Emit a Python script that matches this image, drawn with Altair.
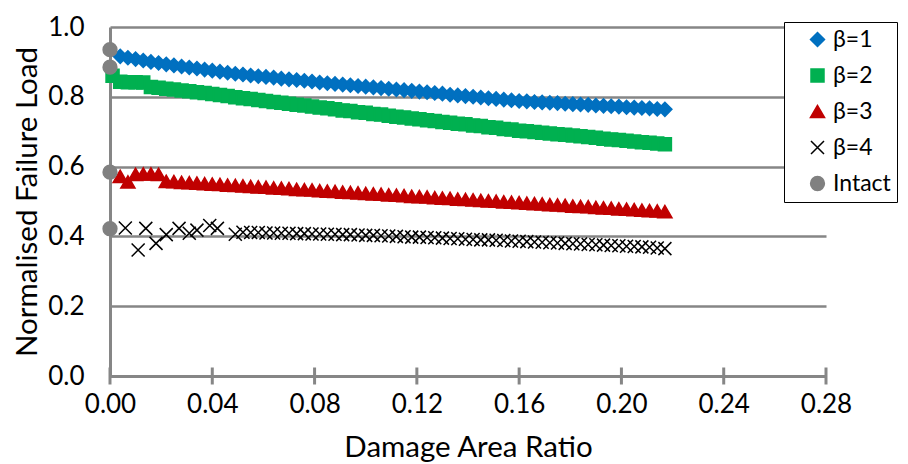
import altair as alt
import pandas as pd

# ---------------- data ----------------
series_names = ["β=1", "β=2", "β=3", "β=4", "Intact"]

x_grid = [0.004, 0.007, 0.010, 0.013, 0.016, 0.019, 0.022, 0.025, 0.028, 0.031,
          0.034, 0.037, 0.040, 0.043, 0.046, 0.049, 0.052, 0.055, 0.058, 0.061,
          0.064, 0.067, 0.070, 0.073, 0.076, 0.079, 0.082, 0.085, 0.088, 0.091,
          0.094, 0.097, 0.100, 0.103, 0.106, 0.109, 0.112, 0.115, 0.118, 0.121,
          0.124, 0.127, 0.130, 0.133, 0.136, 0.139, 0.142, 0.145, 0.148, 0.151,
          0.154, 0.157, 0.160, 0.163, 0.166, 0.169, 0.172, 0.175, 0.178, 0.181,
          0.184, 0.187, 0.190, 0.193, 0.196, 0.199, 0.202, 0.205, 0.208, 0.211,
          0.214, 0.217]

beta1_x = x_grid
beta1_y = [0.916, 0.912, 0.908, 0.904, 0.900, 0.897, 0.893, 0.890, 0.887, 0.884,
           0.881, 0.878, 0.875, 0.872, 0.869, 0.866, 0.864, 0.861, 0.859, 0.857,
           0.855, 0.852, 0.850, 0.848, 0.846, 0.844, 0.841, 0.839, 0.837, 0.835,
           0.833, 0.831, 0.829, 0.827, 0.825, 0.823, 0.821, 0.819, 0.817, 0.815,
           0.813, 0.811, 0.809, 0.806, 0.804, 0.802, 0.800, 0.798, 0.796, 0.794,
           0.792, 0.790, 0.788, 0.787, 0.785, 0.784, 0.783, 0.782, 0.780, 0.779,
           0.778, 0.777, 0.775, 0.774, 0.773, 0.772, 0.770, 0.769, 0.768, 0.767,
           0.765, 0.764]

beta2_x = [0.001] + x_grid
beta2_y = [0.860,
           0.843, 0.842, 0.842, 0.841, 0.828, 0.826, 0.823, 0.821, 0.818, 0.816,
           0.813, 0.811, 0.808, 0.805, 0.802, 0.799, 0.796, 0.794, 0.791, 0.788,
           0.785, 0.783, 0.780, 0.777, 0.775, 0.772, 0.769, 0.767, 0.764, 0.761,
           0.759, 0.756, 0.754, 0.751, 0.749, 0.746, 0.743, 0.741, 0.738, 0.736,
           0.733, 0.731, 0.728, 0.726, 0.723, 0.721, 0.718, 0.716, 0.713, 0.711,
           0.708, 0.706, 0.703, 0.701, 0.699, 0.697, 0.695, 0.693, 0.691, 0.689,
           0.687, 0.685, 0.683, 0.680, 0.678, 0.676, 0.674, 0.672, 0.670, 0.668,
           0.666, 0.664]

beta3_x = x_grid
beta3_y = [0.572, 0.556, 0.578, 0.579, 0.579, 0.578, 0.558, 0.557, 0.555, 0.554,
           0.553, 0.551, 0.550, 0.549, 0.547, 0.546, 0.545, 0.543, 0.542, 0.541,
           0.539, 0.538, 0.537, 0.535, 0.534, 0.533, 0.531, 0.530, 0.529, 0.527,
           0.526, 0.525, 0.523, 0.522, 0.521, 0.519, 0.518, 0.517, 0.515, 0.514,
           0.513, 0.511, 0.510, 0.509, 0.507, 0.506, 0.505, 0.503, 0.502, 0.501,
           0.499, 0.498, 0.497, 0.495, 0.494, 0.493, 0.491, 0.490, 0.489, 0.487,
           0.486, 0.485, 0.483, 0.482, 0.481, 0.479, 0.478, 0.477, 0.475, 0.474,
           0.473, 0.471]

beta4_x = [0.006, 0.011, 0.014, 0.018, 0.022, 0.027, 0.031, 0.034, 0.039, 0.042,
           0.049] + x_grid[16:]
beta4_y = [0.424, 0.361, 0.423, 0.380, 0.405, 0.423, 0.409, 0.418, 0.431, 0.423,
           0.406,
           0.412, 0.411, 0.411, 0.410, 0.410, 0.409, 0.409, 0.408, 0.408, 0.407,
           0.407, 0.406, 0.406, 0.405, 0.405, 0.404, 0.403, 0.403, 0.402, 0.401,
           0.400, 0.399, 0.398, 0.398, 0.397, 0.396, 0.395, 0.394, 0.393, 0.392,
           0.391, 0.390, 0.390, 0.389, 0.388, 0.387, 0.386, 0.385, 0.384, 0.383,
           0.382, 0.381, 0.380, 0.379, 0.378, 0.377, 0.376, 0.375, 0.374, 0.373,
           0.372, 0.371, 0.370, 0.369, 0.367, 0.365]

intact_x = [0.0, 0.0, 0.0, 0.0]
intact_y = [0.935, 0.885, 0.584, 0.422]

x_ticks = [0.0, 0.04, 0.08, 0.12, 0.16, 0.20, 0.24, 0.28]
y_ticks = [0.0, 0.2, 0.4, 0.6, 0.8, 1.0]

# ---------------- build table ----------------
rows = []
for name, xs, ys in [("β=1", beta1_x, beta1_y), ("β=2", beta2_x, beta2_y),
                     ("β=3", beta3_x, beta3_y), ("β=4", beta4_x, beta4_y),
                     ("Intact", intact_x, intact_y)]:
    for xv, yv in zip(xs, ys):
        rows.append({"x": xv, "y": yv, "series": name})
df = pd.DataFrame(rows)
ticks_df = pd.DataFrame({"x": x_ticks})

FONT = "Lato"
GRAY = "#868686"
X_PATH = "M-1,-1L1,1M-1,1L1,-1"

fill_range = ["#0070C0", "#00B050", "#C00000", "transparent", "#808080"]
stroke_range = ["#0070C0", "#00B050", "#C00000", "#000000", "#808080"]
shape_range = ["diamond", "square", "triangle-up", X_PATH, "circle"]
size_range = [196, 169, 200, 169, 190]

legend = alt.Legend(
    title=None, orient="none", legendX=674, legendY=-5,
    strokeColor="#000000", fillColor="white", padding=6, cornerRadius=0,
    labelFont=FONT, labelFontSize=23, labelColor="#000000",
    rowPadding=12, symbolOffset=16, labelOffset=4, symbolStrokeWidth=1.5,
)

xscale = alt.Scale(domain=[0, 0.28], nice=False, zero=False)
yscale = alt.Scale(domain=[0, 1], nice=False)

x_axis = alt.Axis(values=x_ticks, format=".2f", title="Damage Area Ratio",
                  labelFont=FONT, labelFontSize=26, labelColor="#000000",
                  labelFlush=False,
                  titleFont=FONT, titleFontSize=29.5, titleFontWeight="normal",
                  titleColor="#000000", domainColor=GRAY, domainWidth=3,
                  ticks=False, grid=False, labelPadding=15, titlePadding=16)
y_axis = alt.Axis(values=y_ticks, format=".1f", title="Normalised Failure Load",
                  labelFont=FONT, labelFontSize=26, labelColor="#000000",
                  labelFlush=False,
                  titleFont=FONT, titleFontSize=29.5, titleFontWeight="normal",
                  titleColor="#000000", domainColor=GRAY, domainWidth=3,
                  ticks=False, grid=True, gridColor=GRAY, gridWidth=2.5,
                  labelPadding=26, titlePadding=5)

tick_layer = alt.Chart(ticks_df).mark_tick(
    orient="vertical", size=17, thickness=3, color=GRAY, opacity=1
).encode(
    x=alt.X("x:Q", scale=xscale),
    y=alt.datum(0),
)

points = alt.Chart(df).mark_point(filled=False, strokeWidth=1.5, opacity=1).encode(
    x=alt.X("x:Q", scale=xscale, axis=x_axis),
    y=alt.Y("y:Q", scale=yscale, axis=y_axis),
    fill=alt.Fill("series:N", scale=alt.Scale(domain=series_names, range=fill_range), legend=legend),
    stroke=alt.Stroke("series:N", scale=alt.Scale(domain=series_names, range=stroke_range), legend=legend),
    shape=alt.Shape("series:N", scale=alt.Scale(domain=series_names, range=shape_range), legend=legend),
    size=alt.Size("series:N", scale=alt.Scale(type="ordinal", domain=series_names, range=size_range), legend=legend),
)

chart = alt.layer(tick_layer, points).properties(
    width=716, height=349,
    autosize=alt.AutoSizeParams(type="none"),
    padding={"left": 110, "top": 27, "right": 82, "bottom": 88},
    background="white",
).configure_view(stroke=None)

chart.save("out.html", embed_options={"renderer": "svg", "actions": False})
